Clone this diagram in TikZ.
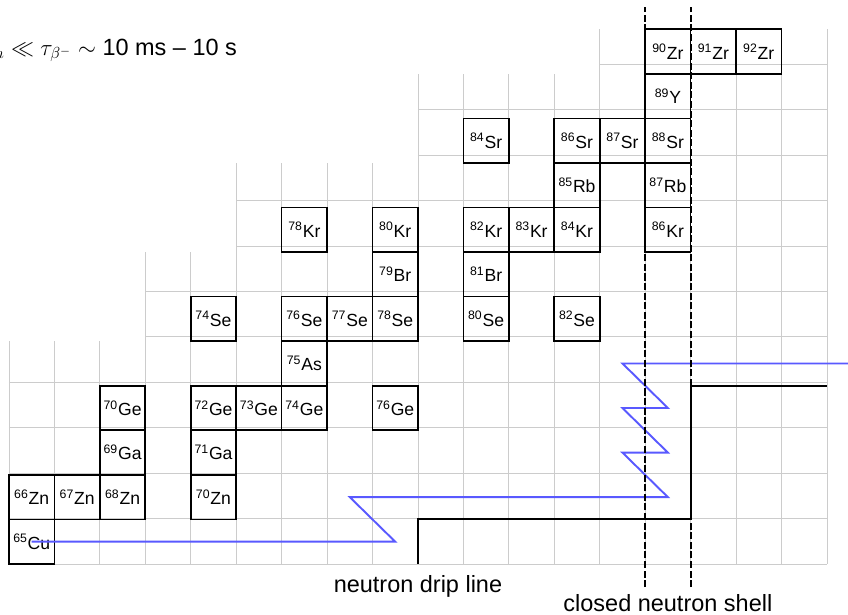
\documentclass[tikz,border=0pt]{standalone}
\usepackage{amsmath,amssymb}
\usepackage{fontspec}
\setmainfont{Liberation Sans}
\usepackage{tikz}
\usetikzlibrary{positioning}
\usepackage{xcolor}
\newcommand{\isot}[2]{\textsuperscript{#1}#2}

\begin{document}
\begin{tikzpicture}[
    x=1cm, y=0.9806cm,
    nucl/.style={draw,line width=1.05pt,minimum width=1cm,minimum height=0.9806cm,inner sep=0pt,
      font=\fontsize{11}{13}\selectfont},
    cell/.style={gray!40,line width=0.5pt},
    rpath/.style={blue!65,very thick},
    drip/.style={black,line width=1.3pt},
    shell/.style={very thick,dash pattern=on 4.4pt off 1.6pt},
    label/.style={font=\fontsize{14.7}{17}\selectfont}
  ]
  \useasboundingbox (-0.198,-1.1445) rectangle (18.464,12.657);

  %% Chart grid, one strip of cells per proton number
  \foreach \row/\first in {0/0,1/0,2/0,3/0,4/0,5/3,6/3,7/5,8/5,9/9,10/9,11/13}{
    \draw[cell] (\first,\row) grid (18,\row+1);
  }

  %% Stable nuclei
  \foreach \el/\mass/\n/\z in {Cu/65/0/0, Zn/66/0/1, Zn/67/1/1, Zn/68/2/1, Zn/70/4/1,
      Ga/69/2/2, Ga/71/4/2, Ge/70/2/3, Ge/72/4/3, Ge/73/5/3, Ge/74/6/3, Ge/76/8/3,
      As/75/6/4, Se/74/4/5, Se/76/6/5, Se/77/7/5, Se/78/8/5, Se/80/10/5, Se/82/12/5,
      Br/79/8/6, Br/81/10/6, Kr/78/6/7, Kr/80/8/7, Kr/82/10/7, Kr/83/11/7, Kr/84/12/7,
      Kr/86/14/7, Rb/85/12/8, Rb/87/14/8, Sr/84/10/9, Sr/86/12/9, Sr/87/13/9, Sr/88/14/9,
      Y/89/14/10, Zr/90/14/11, Zr/91/15/11, Zr/92/16/11}{
    \node[nucl] (\el\mass) at (\n+0.5,\z+0.5) {\isot{\mass}{\el}};
  }

  %% Neutron drip line
  \draw[drip] (9,0) -- (9,1) -- (15,1) -- (15,4) -- (18,4);
  \node[label,anchor=base] (dripl) at (9,-0.65) {neutron drip line};

  %% r-process path
  \draw[rpath] (Cu65.center) -- (8.5,0.5) -- (7.5,1.5) -- (14.5,1.5) -- (13.5,2.5)
    -- (14.5,2.5) -- (13.5,3.5) -- (14.5,3.5) -- (13.5,4.5) -- (18.7,4.5);

  %% Closed neutron shell
  \draw[shell] (14,-0.52) -- (14,12.5);
  \draw[shell] (15,-0.52) -- (15,12.5);
  \node[label,anchor=base] (shelll) at (14.5,-1.07) {closed neutron shell};

  %% Time scales
  \node[label,anchor=base east] (times) at (5.14,11.42)
    {$\tau_n \ll \tau_{\beta^-} \sim$ 10 ms -- 10 s};
\end{tikzpicture}
\end{document}
